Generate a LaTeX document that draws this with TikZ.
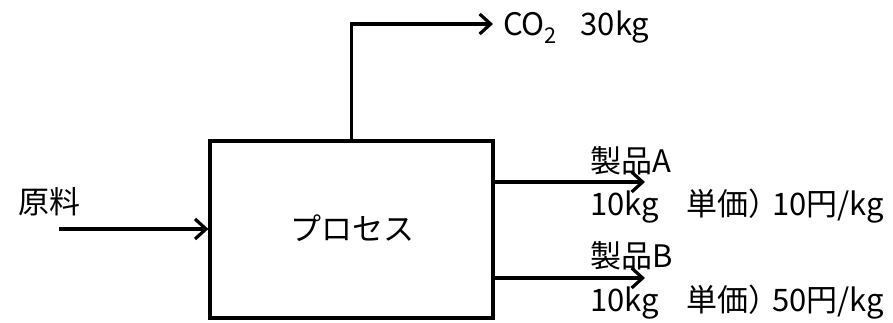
\documentclass[tikz,border=0pt]{standalone}
\usepackage{fontspec}
\setmainfont{Noto Sans CJK JP}
\usetikzlibrary{arrows.meta}
\begin{document}
\begin{tikzpicture}[x=1pt,y=-1pt,
  flow/.style={line width=3.2pt,-{Straight Barb[length=11pt,width=20pt,line width=3.2pt]}},
  procbox/.style={draw,line width=3.2pt,minimum width=283pt,minimum height=177pt,inner sep=0pt},
  lbl/.style={anchor=base west,inner sep=0pt,font=\fontsize{31}{37}\selectfont}]
\useasboundingbox (0,0) rectangle (893,323);
\node[procbox] (proc) at (351.5,229.5) {};
\node[lbl,anchor=base] (proclbl) at (352,240) {プロセス};
\coordinate (src) at (59,229);
\coordinate (co2tip) at (493,24);
\coordinate (atip) at (645,182);
\coordinate (btip) at (645,278);
\draw[flow] (src) -- (src -| proc.west);
\draw[flow] (proc.north) |- (co2tip);
\draw[flow] (atip -| proc.east) -- (atip);
\draw[flow] (btip -| proc.east) -- (btip);
\node[lbl] (raw) at (18,213) {原料};
\node[lbl] (co2) at (503,36) {CO\textsubscript{2}\hspace{0.75em}30kg};
\node[lbl] (pa) at (590,172) {製品A};
\node[lbl] (pa2) at (590,215) {10kg\hspace{0.9em}単価）\kern-0.25em10円/kg};
\node[lbl] (pb) at (590,267) {製品B};
\node[lbl] (pb2) at (590,311) {10kg\hspace{0.9em}単価）\kern-0.25em50円/kg};
\end{tikzpicture}
\end{document}
